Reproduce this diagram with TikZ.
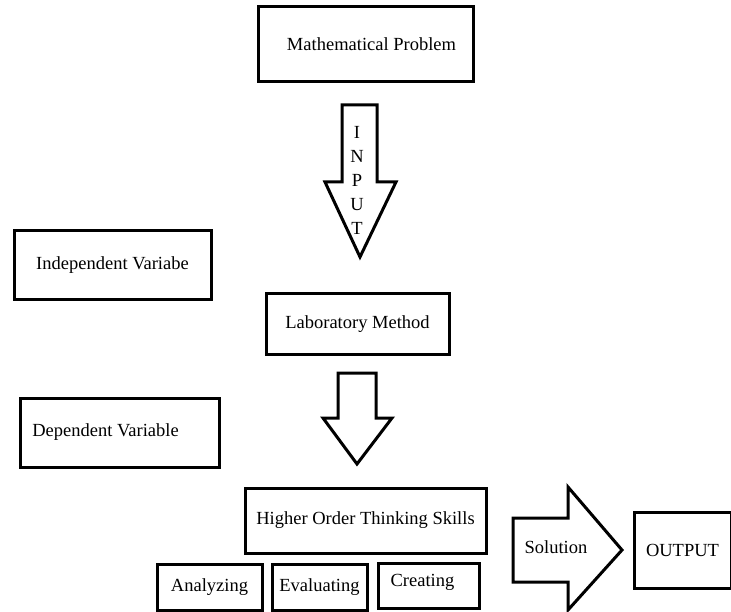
\documentclass[tikz,border=0pt]{standalone}
\usepackage{fontspec}
\setmainfont{Liberation Serif}
\usepackage{tikz}

\tikzset{
  box/.style={draw, line width=3pt, inner sep=0pt, font=\fontsize{18.5}{22}\selectfont},
  hollow/.style={draw, line width=3pt, line join=miter}
}

\begin{document}
\begin{tikzpicture}[x=1pt, y=-1pt]
  \useasboundingbox (0,0) rectangle (731,612);

  % Problem and input arrow (top)
  \node[box, minimum width=215, minimum height=75] (problem) at (365.5,44.5) {\kern12pt Mathematical Problem};
  \draw[hollow] (342,105) -- (377,105) -- (377,182) -- (396,182) -- (360,257)
    -- (325,182) -- (342,182) -- cycle;
  \node[font=\fontsize{18.5}{24}\selectfont, align=center] (input) at (357,180) {I\\N\\P\\U\\T};

  % Variables (left)
  \node[box, minimum width=197, minimum height=69] (indep) at (112.5,265.5) {Independent Variabe};
  \node[box, minimum width=199, minimum height=69] (dep) at (119.5,432.5) {Dependent Variable\kern28pt};

  % Method and second arrow
  \node[box, minimum width=183, minimum height=60] (method) at (357.5,324) {Laboratory Method};
  \draw[hollow] (338,373) -- (376,373) -- (376,418) -- (392,418) -- (357,464)
    -- (323,418) -- (338,418) -- cycle;

  % Thinking skills (bottom)
  \node[box, minimum width=241, minimum height=65] (hots) at (365.5,520.5) {Higher Order Thinking Skills};
  \node[box, minimum width=105, minimum height=46] (analyze) at (209.5,587) {Analyzing};
  \node[box, minimum width=95, minimum height=46] (evaluate) at (319.5,587) {Evaluating};
  \node[box, minimum width=101, minimum height=45, text depth=10pt] (create) at (428.5,585.5) {Creating\kern12pt};

  % Solution arrow and output (right)
  \draw[hollow] (513,518) -- (568,518) -- (568,487) -- (622,550) -- (568,610)
    -- (568,582) -- (513,582) -- cycle;
  \node[font=\fontsize{18.5}{22}\selectfont] (solution) at (556,547) {Solution};
  \node[box, minimum width=97, minimum height=76] (output) at (682.5,550) {OUTPUT};
\end{tikzpicture}
\end{document}
